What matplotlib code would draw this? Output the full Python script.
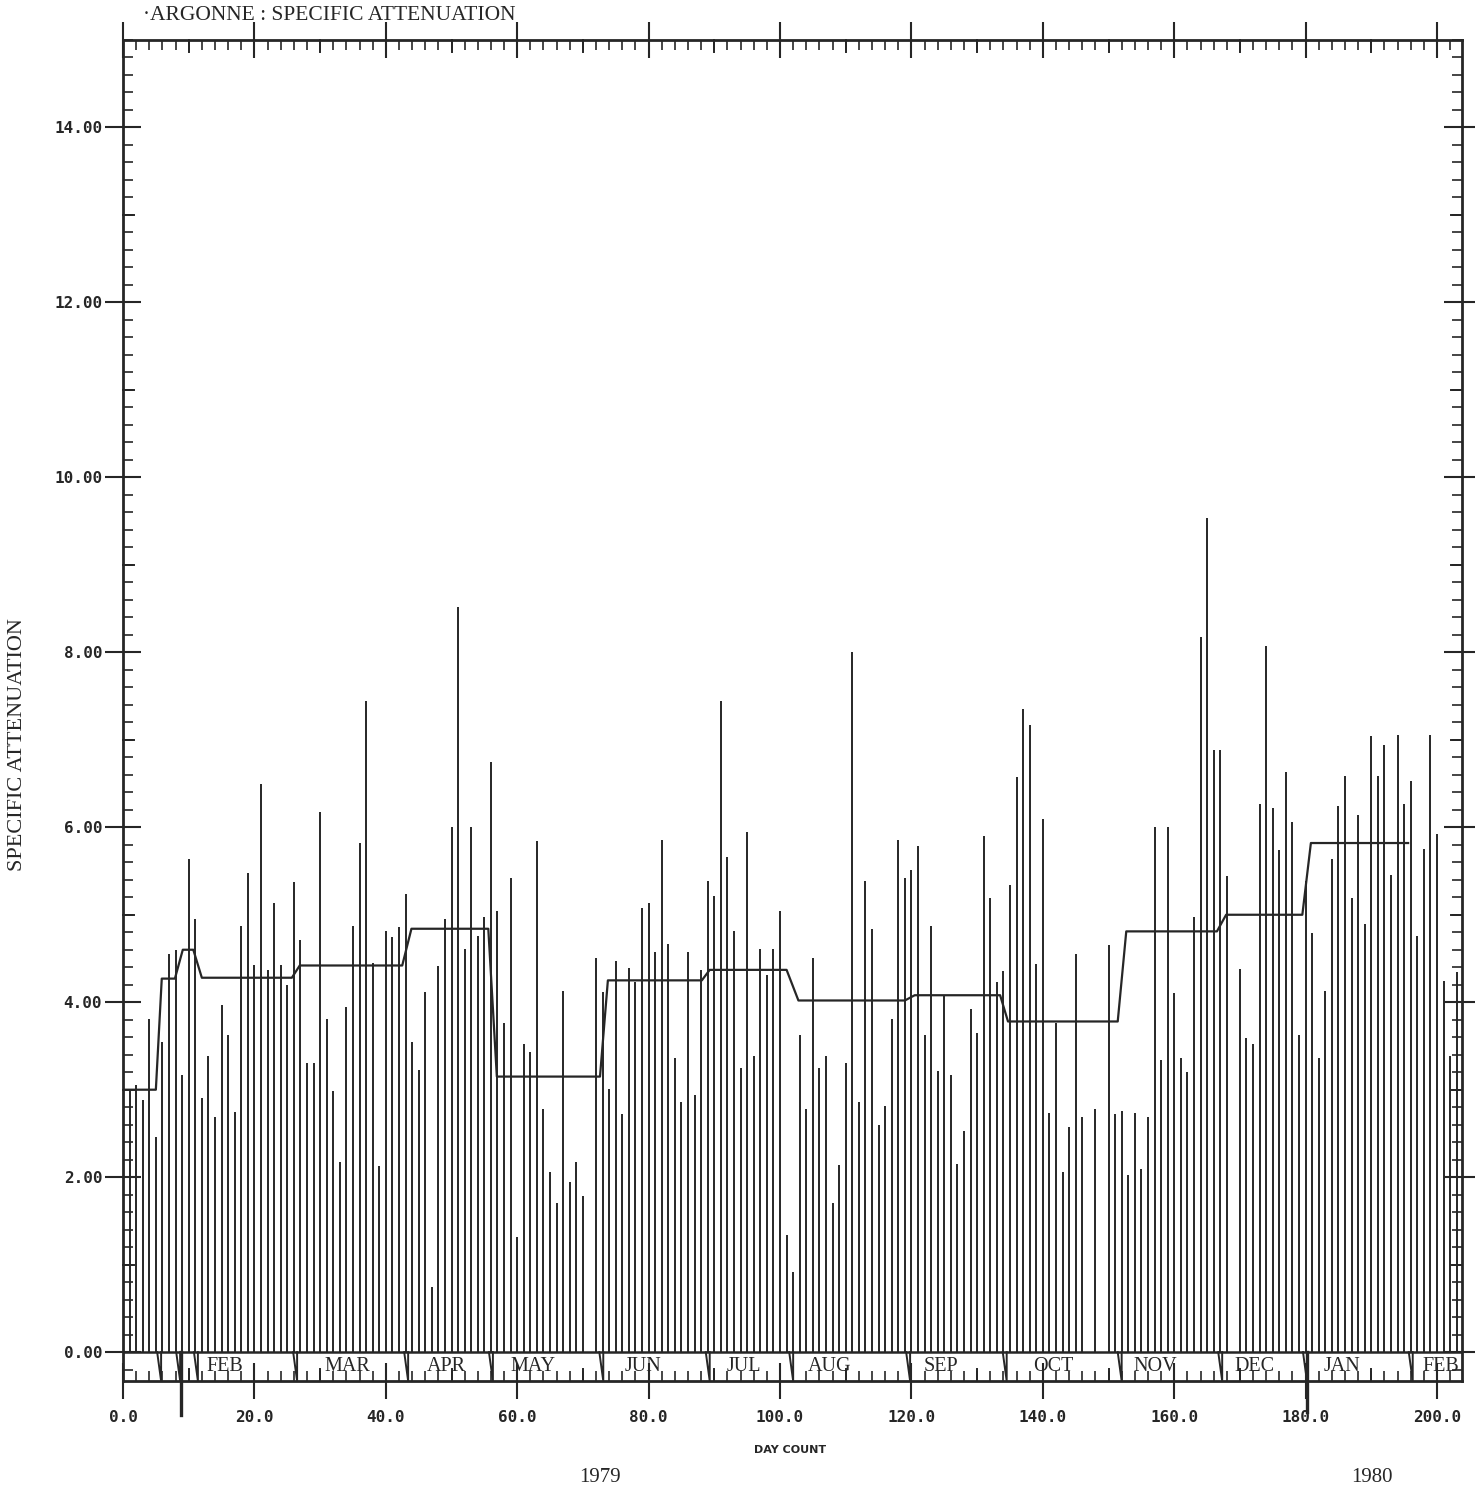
import numpy as np
import matplotlib
matplotlib.use("Agg")
import matplotlib.pyplot as plt
from matplotlib.ticker import MultipleLocator, FormatStrFormatter

# daily specific attenuation values, day count 1..203 (0 = no spike drawn)
atten = [
    3.00, 3.05, 2.88, 3.81, 2.46, 3.55, 4.55, 4.60, 3.17, 5.64,
    4.95, 2.91, 3.39, 2.69, 3.97, 3.63, 2.75, 4.87, 5.48, 4.42,
    6.49, 4.37, 5.13, 4.42, 4.20, 5.37, 4.71, 3.30, 3.31, 6.18,
    3.81, 2.99, 2.17, 3.94, 4.87, 5.82, 7.44, 4.45, 2.13, 4.81,
    4.74, 4.86, 5.24, 3.55, 3.23, 4.12, 0.75, 4.41, 4.95, 6.00,
    8.52, 4.61, 6.00, 4.76, 4.98, 6.75, 5.04, 3.76, 5.42, 1.32,
    3.52, 3.43, 5.84, 2.78, 2.06, 1.70, 4.13, 1.95, 2.17, 1.79,
    0.00, 4.50, 4.12, 3.01, 4.47, 2.72, 4.39, 4.23, 5.08, 5.13,
    4.57, 5.85, 4.67, 3.36, 2.86, 4.57, 2.94, 4.37, 5.39, 5.21,
    7.44, 5.66, 4.81, 3.25, 5.95, 3.39, 4.61, 4.31, 4.61, 5.04,
    1.34, 0.92, 3.62, 2.78, 4.50, 3.25, 3.39, 1.70, 2.14, 3.31,
    8.00, 2.86, 5.39, 4.84, 2.60, 2.81, 3.81, 5.85, 5.42, 5.51,
    5.79, 3.63, 4.87, 3.21, 4.07, 3.17, 2.15, 2.53, 3.92, 3.65,
    5.90, 5.19, 4.23, 4.36, 5.34, 6.57, 7.35, 7.17, 4.44, 6.09,
    2.73, 3.76, 2.06, 2.57, 4.55, 2.69, 0.00, 2.78, 0.00, 4.65,
    2.72, 2.76, 2.02, 2.73, 2.09, 2.69, 6.00, 3.34, 6.00, 4.10,
    3.36, 3.20, 4.97, 8.17, 9.53, 6.88, 6.88, 5.44, 0.00, 4.38,
    3.59, 3.52, 6.27, 8.07, 6.22, 5.74, 6.63, 6.06, 3.62, 5.39,
    4.79, 3.36, 4.13, 5.64, 6.24, 6.59, 5.19, 6.14, 4.89, 7.04,
    6.59, 6.94, 5.45, 7.05, 6.27, 6.53, 4.76, 5.75, 7.05, 5.92,
    4.24, 3.39, 4.34,
]
days = np.arange(1, len(atten) + 1)

# monthly mean line: flat segments (start day, end day, level)
avg_start = [0.0, 5.9, 9.1, 12.0, 26.9, 43.9, 56.9, 73.8, 89.3, 102.8, 120.5, 134.7, 152.7, 167.9, 180.8]
avg_end = [5.0, 7.9, 10.7, 25.7, 42.5, 55.6, 72.6, 88.1, 101.0, 119.0, 133.5, 151.4, 166.5, 179.5, 195.6]
avg_level = [3.00, 4.27, 4.60, 4.28, 4.42, 4.84, 3.15, 4.25, 4.37, 4.02, 4.08, 3.78, 4.81, 5.00, 5.82]

# month boundaries and month names in the strip under the plot
month_bounds = [5.8, 8.7, 11.4, 26.5, 43.4, 56.3, 73.1, 89.3, 102.0, 119.8, 134.5, 152.0, 167.3, 180.2, 196.3]
month_names = ["FEB", "MAR", "APR", "MAY", "JUN", "JUL", "AUG", "SEP", "OCT", "NOV", "DEC", "JAN", "FEB"]
month_label_day = [15.5, 34.1, 49.2, 62.4, 79.2, 94.5, 107.6, 124.5, 141.6, 157.1, 172.2, 185.5, 200.6]

ink = "#262626"
serif = "Liberation Serif"
mono = "DejaVu Sans Mono"

W, H = 1475, 1492
fig = plt.figure(figsize=(W / 100, H / 100), dpi=100)
ax = fig.add_axes([123 / W, 1 - 1381 / H, (1462 - 123) / W, (1381 - 40) / H])
xmax, ylo, yhi = 203.8, -0.33, 15.0
ax.set_xlim(0, xmax)
ax.set_ylim(ylo, yhi)

# spikes and mean line
ax.vlines(days, 0, atten, colors=ink, lw=1.4)
lx, ly = [], []
for s, e, v in zip(avg_start, avg_end, avg_level):
    lx += [s, e]
    ly += [v, v]
ax.plot(lx, ly, color=ink, lw=1.6)
ax.axhline(0, color=ink, lw=1.8)

# month strip
for b in month_bounds:
    ax.plot([b - 0.6, b, b], [0, ylo, 0], color=ink, lw=1.4)
for d, name in zip(month_label_day, month_names):
    ax.text(d, -0.165, name, ha="center", va="center", fontsize=14.5,
            family=serif, color=ink)

# stray plotter marks running below the axis
for d, depth in [(8.8, -0.72), (180.2, -0.68)]:
    ax.plot([d, d], [0, depth], color=ink, lw=2.4, clip_on=False)

# ticks
ax.xaxis.set_major_locator(MultipleLocator(20))
ax.xaxis.set_minor_locator(MultipleLocator(2))
ax.yaxis.set_major_locator(MultipleLocator(2))
ax.yaxis.set_minor_locator(MultipleLocator(0.2))
ax.xaxis.set_major_formatter(FormatStrFormatter("%.1f"))
ax.yaxis.set_major_formatter(FormatStrFormatter("%.2f"))
ax.tick_params(which="major", direction="inout", length=26, width=1.5,
               top=True, right=True, color=ink, labelcolor=ink)
ax.tick_params(which="minor", direction="in", length=7, width=1.2,
               top=True, right=True, color=ink)
ax.tick_params(axis="x", which="major", pad=8)
ax.tick_params(axis="y", which="major", pad=2)
ax.set_yticks(np.arange(0, 15, 2))
for lab in ax.get_xticklabels() + ax.get_yticklabels():
    lab.set_family(mono)
    lab.set_weight("bold")
    lab.set_fontsize(11.5)

# medium ticks every 10 days / every 1 unit
hx = 12 / (1381 - 40)
hy = 11 / (1462 - 123)
for d in range(10, 200, 20):
    ax.plot([d, d], [0, hx], transform=ax.get_xaxis_transform(), color=ink, lw=1.4, clip_on=False)
    ax.plot([d, d], [1, 1 - hx], transform=ax.get_xaxis_transform(), color=ink, lw=1.4, clip_on=False)
for v in range(1, 15, 2):
    ax.plot([0, hy], [v, v], transform=ax.get_yaxis_transform(), color=ink, lw=1.4, clip_on=False)
    ax.plot([1, 1 - hy], [v, v], transform=ax.get_yaxis_transform(), color=ink, lw=1.4, clip_on=False)

for sp in ax.spines.values():
    sp.set_color(ink)
    sp.set_linewidth(2)

# texts
fig.text(143 / W, 1 - 15 / H, "\u00b7ARGONNE : SPECIFIC ATTENUATION",
         family=serif, fontsize=15.5, va="center", color=ink)
fig.text(18 / W, 1 - 745 / H, "SPECIFIC ATTENUATION", rotation=90,
         family=serif, fontsize=16, ha="center", va="center", color=ink)
fig.text(790 / W, 1 - 1450 / H, "DAY COUNT", family="DejaVu Sans",
         fontsize=8, weight="bold", ha="center", va="center", color=ink)
fig.text(600 / W, 1 - 1478 / H, "1979", family=serif, fontsize=15,
         ha="center", va="center", color=ink)
fig.text(1372 / W, 1 - 1478 / H, "1980", family=serif, fontsize=15,
         ha="center", va="center", color=ink)

fig.savefig("out.png", dpi=100, facecolor="white")
